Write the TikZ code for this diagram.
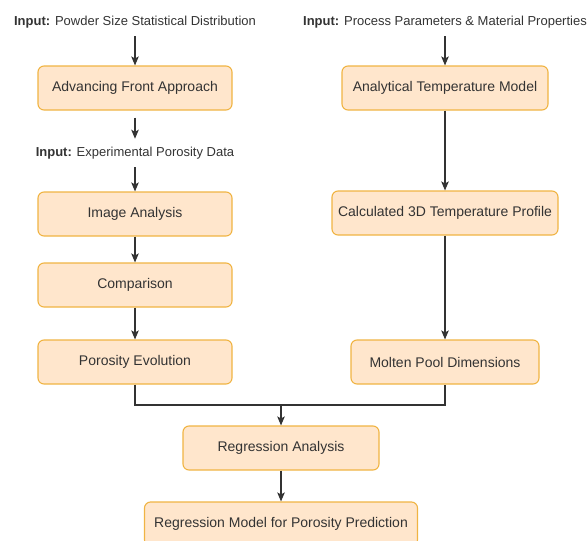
\documentclass[tikz,border=0pt]{standalone}
\usepackage{fontspec}
\setmainfont{Liberation Sans}
\usepackage{tikz}
\usetikzlibrary{arrows.meta,shapes}
\usetikzlibrary{positioning}
\definecolor{boxfill}{HTML}{FFE6CC}
\definecolor{boxline}{HTML}{F0B443}
\definecolor{linegray}{HTML}{333333}
\tikzstyle{block} = [draw=boxline, fill=boxfill, rounded corners=6pt, line width=1.1pt,
    minimum height=44pt, text=black!80, font=\fontsize{14}{16}\selectfont]
\tikzstyle{inlabel} = [inner xsep=0pt, inner ysep=8pt, text=black!80,
    font=\fontsize{13}{15}\selectfont]
\tikzstyle{flow} = [-{Stealth[length=9pt,width=7.5pt,inset=2pt]}, linegray, line width=1.2pt]

\begin{document}
\begin{tikzpicture}[x=1pt, y=-1pt]
  \useasboundingbox (0,0) rectangle (587,541);
  % Inputs
  \node [inlabel] (in1) at (135,22) {\textbf{Input:} Powder Size Statistical Distribution};
  \node [inlabel, right of=in1, node distance=310pt] (in2) {\textbf{Input:} Process Parameters \& Material Properties};
  % Left branch
  \node [block, minimum width=194pt, below of=in1, node distance=66pt] (afa) {Advancing Front Approach};
  \node [inlabel, below of=afa, node distance=65pt] (in3) {\textbf{Input:} Experimental Porosity Data};
  \node [block, minimum width=194pt, below of=in3, node distance=61pt] (img) {Image Analysis};
  \node [block, minimum width=194pt, below of=img, node distance=71pt] (cmp) {Comparison};
  \node [block, minimum width=194pt, below of=cmp, node distance=77pt] (por) {Porosity Evolution};
  % Right branch
  \node [block, minimum width=206pt, below of=in2, node distance=66pt] (atm) {Analytical Temperature Model};
  \node [block, minimum width=226pt, below of=atm, node distance=125pt] (ctp) {Calculated 3D Temperature Profile};
  \node [block, minimum width=188pt, below of=ctp, node distance=149pt] (mpd) {Molten Pool Dimensions};
  % Regression
  \node [block, minimum width=196pt] (reg) at (281,448) {Regression Analysis};
  \node [block, minimum width=273pt, below of=reg, node distance=76pt] (rmp) {Regression Model for Porosity Prediction};
  \coordinate [above of=reg, node distance=43pt] (mid);
  % Connectors
  \draw [flow] (in1) -- (afa);
  \draw [flow, shorten <=7pt] (afa) -- (in3);
  \draw [flow] (in3) -- (img);
  \draw [flow] (img) -- (cmp);
  \draw [flow] (cmp) -- (por);
  \draw [flow] (in2) -- (atm);
  \draw [flow] (atm) -- (ctp);
  \draw [flow] (ctp) -- (mpd);
  \draw [linegray, line width=1.2pt] (por.south) |- (mid) -| (mpd.south);
  \draw [flow] (mid) -- (reg);
  \draw [flow] (reg) -- (rmp);
\end{tikzpicture}
\end{document}
